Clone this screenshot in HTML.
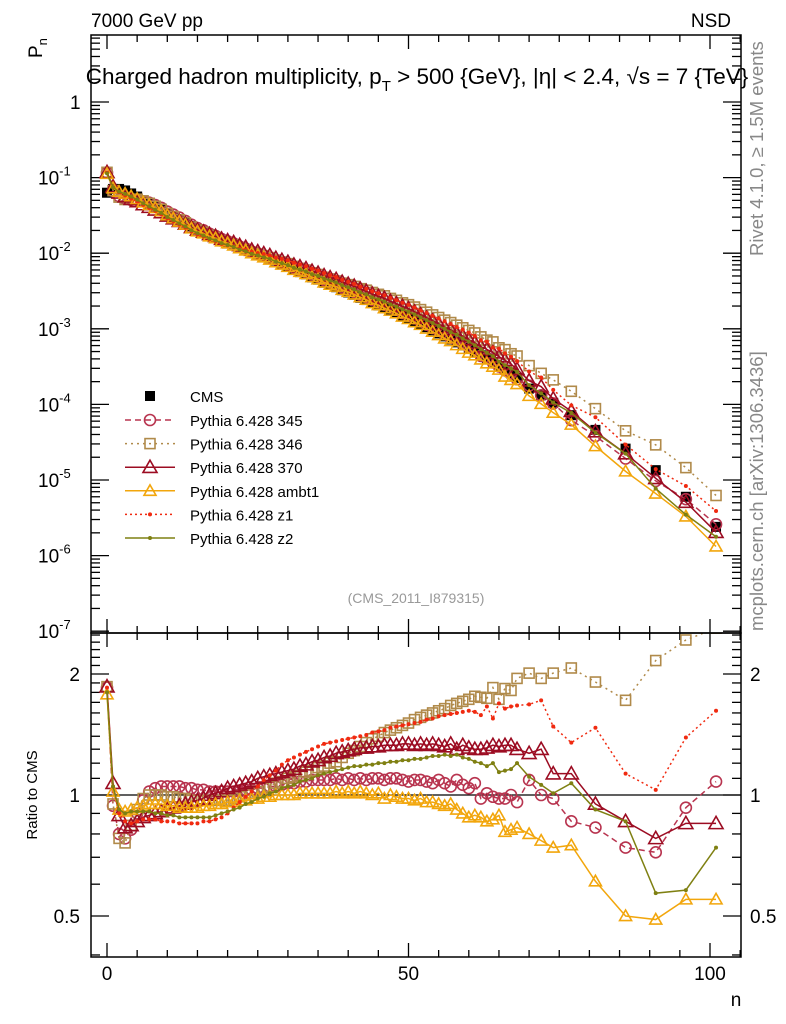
<!DOCTYPE html>
<html><head><meta charset="utf-8">
<style>
body{margin:0;background:#fff;}
svg{display:block;font-family:"Liberation Sans",Arial,sans-serif;}
</style></head>
<body>
<svg id="chart" width="786" height="1024" viewBox="0 0 786 1024" xmlns="http://www.w3.org/2000/svg">
<defs>
<clipPath id="clipMain"><rect x="91" y="35" width="650" height="598"/></clipPath>
<clipPath id="clipRatio"><rect x="91" y="633" width="650" height="324"/></clipPath>
</defs>
<rect x="0" y="0" width="786" height="1024" fill="#fff"/>
<text x="91" y="27" font-size="19">7000 GeV pp</text>
<text x="731" y="27" font-size="19" text-anchor="end">NSD</text>
<text x="417" y="84" font-size="22.5" text-anchor="middle">Charged hadron multiplicity, p<tspan font-size="15" dy="7">T</tspan><tspan dy="-7"> &gt; 500 {GeV}, |η| &lt; 2.4, √s = 7 {TeV}</tspan></text>
<text transform="translate(42,58) rotate(-90)" font-size="19">P<tspan font-size="13" dy="5">n</tspan></text>
<text transform="translate(763,256) rotate(-90)" font-size="18.5" fill="#888">Rivet 4.1.0, ≥ 1.5M events</text>
<text transform="translate(763,631) rotate(-90)" font-size="18.5" fill="#888">mcplots.cern.ch [arXiv:1306.3436]</text>
<text x="416" y="603" font-size="14" fill="#999" text-anchor="middle">(CMS_2011_I879315)</text>
<text transform="translate(37,795) rotate(-90)" font-size="15" text-anchor="middle">Ratio to CMS</text>
<text x="736" y="1006" font-size="19" text-anchor="middle">n</text>
<g id="axes"></g>
<g id="mainMarks" clip-path="url(#clipMain)"></g>
<g id="ratioMarks" clip-path="url(#clipRatio)"></g>
<g id="legend"></g>
<rect x="91" y="35" width="650" height="598" fill="none" stroke="#000" stroke-width="1.5"/>
<rect x="91" y="633" width="650" height="324" fill="none" stroke="#000" stroke-width="1.5"/>
</svg>
<script>
const nVals=[0,1,2,3,4,5,6,7,8,9,10,11,12,13,14,15,16,17,18,19,20,21,22,23,24,25,26,27,28,29,30,31,32,33,34,35,36,37,38,39,40,41,42,43,44,45,46,47,48,49,50,51,52,53,54,55,56,57,58,59,60,61,62,63,64,65,66,67,68,70,72,74,77,81,86,91,96,101];
const cmsPn=[0.0631,0.0708,0.0708,0.0676,0.0617,0.0562,0.0501,0.0457,0.0417,0.038,
0.0339,0.0309,0.0282,0.0257,0.0229,0.0209,0.0195,0.0178,0.0166,0.0151,
0.0141,0.0132,0.0120,0.0112,0.0102,0.00955,0.00891,0.00832,0.00759,0.00708,
0.00661,0.00603,0.00562,0.00525,0.00479,0.00447,0.00407,0.0038,0.00355,0.00324,
0.00302,0.00282,0.00257,0.0024,0.00219,0.00204,0.00191,0.00174,0.00162,0.00148,
0.00138,0.00126,0.00115,0.00105,9.55e-4,8.71e-4,7.94e-4,7.24e-4,6.61e-4,6.03e-4,
5.5e-4,5.01e-4,4.47e-4,4.07e-4,3.63e-4,3.24e-4,2.88e-4,2.57e-4,2.24e-4,
1.62e-4,1.32e-4,1.05e-4,7.2e-5,4.6e-5,2.6e-5,1.35e-5,6.0e-6,2.4e-6];
const ratio345=[1.85,0.94,0.80,0.78,0.82,0.90,0.97,1.02,1.04,1.05,
1.05,1.05,1.05,1.04,1.04,1.03,1.03,1.02,1.02,1.02,
1.02,1.02,1.02,1.03,1.03,1.04,1.04,1.05,1.05,1.06,
1.07,1.07,1.08,1.08,1.09,1.09,1.09,1.09,1.10,1.09,
1.10,1.09,1.10,1.09,1.10,1.10,1.09,1.10,1.10,1.09,
1.08,1.09,1.09,1.08,1.07,1.09,1.07,1.05,1.09,1.06,
1.04,1.07,0.98,1.01,0.99,0.98,0.98,1.00,0.96,
1.09,1.00,0.98,0.86,0.83,0.74,0.72,0.93,1.08];
const ratio346=[1.86,0.95,0.78,0.76,0.84,0.92,0.98,1.00,1.00,1.00,
0.99,0.99,0.98,0.98,0.97,0.97,0.97,0.97,0.97,0.97,
0.97,0.98,0.99,1.00,1.01,1.02,1.04,1.05,1.07,1.08,
1.10,1.11,1.12,1.14,1.15,1.17,1.18,1.20,1.21,1.24,
1.27,1.29,1.32,1.35,1.38,1.40,1.43,1.45,1.47,1.49,
1.51,1.54,1.56,1.58,1.60,1.62,1.64,1.67,1.69,1.71,
1.73,1.76,1.75,1.74,1.85,1.73,1.84,1.82,1.95,
2.01,1.95,2.01,2.07,1.91,1.72,2.16,2.43,2.60];
const ratio370=[1.86,1.07,0.89,0.83,0.84,0.86,0.88,0.89,0.90,0.91,
0.92,0.93,0.94,0.95,0.96,0.97,0.98,1.00,1.01,1.02,
1.04,1.05,1.06,1.07,1.08,1.10,1.11,1.12,1.13,1.14,
1.15,1.16,1.18,1.19,1.21,1.22,1.24,1.25,1.27,1.28,
1.29,1.30,1.31,1.31,1.32,1.32,1.33,1.33,1.33,1.34,
1.34,1.33,1.34,1.33,1.34,1.33,1.32,1.34,1.30,1.33,
1.31,1.30,1.30,1.31,1.33,1.32,1.33,1.33,1.30,
1.27,1.30,1.13,1.13,0.95,0.86,0.78,0.85,0.85];
const ratioAmbt1=[1.78,1.02,0.92,0.91,0.92,0.93,0.94,0.95,0.95,0.95,
0.94,0.94,0.93,0.93,0.93,0.93,0.94,0.94,0.95,0.95,
0.96,0.96,0.97,0.97,0.98,0.98,0.99,0.99,1.00,1.00,
1.00,1.00,1.01,1.01,1.01,1.01,1.01,1.01,1.02,1.01,
1.02,1.01,1.02,1.01,1.00,1.01,0.98,1.00,0.99,0.98,
0.98,0.97,0.98,0.96,0.96,0.95,0.94,0.95,0.92,0.90,
0.88,0.89,0.88,0.86,0.87,0.89,0.81,0.82,0.83,
0.80,0.77,0.74,0.75,0.61,0.50,0.49,0.55,0.55];
const ratioZ1=[1.85,1.05,0.90,0.86,0.85,0.86,0.87,0.87,0.87,0.86,
0.86,0.86,0.85,0.85,0.85,0.85,0.86,0.86,0.87,0.88,
0.90,0.93,0.96,0.99,1.02,1.05,1.09,1.12,1.15,1.19,
1.22,1.24,1.26,1.28,1.30,1.32,1.34,1.35,1.36,1.37,
1.38,1.39,1.40,1.41,1.43,1.44,1.45,1.47,1.48,1.49,
1.50,1.51,1.52,1.54,1.55,1.57,1.58,1.59,1.60,1.61,
1.62,1.61,1.58,1.66,1.55,1.69,1.64,1.66,1.67,
1.68,1.72,1.48,1.35,1.47,1.13,1.03,1.39,1.62];
const ratioZ2=[1.80,1.05,0.92,0.90,0.91,0.91,0.91,0.91,0.90,0.90,
0.89,0.89,0.88,0.88,0.88,0.88,0.88,0.88,0.89,0.90,
0.91,0.92,0.93,0.95,0.96,0.98,0.99,1.01,1.02,1.04,
1.05,1.06,1.08,1.09,1.10,1.12,1.13,1.14,1.15,1.16,
1.17,1.18,1.18,1.19,1.19,1.20,1.20,1.21,1.21,1.22,
1.22,1.23,1.23,1.24,1.25,1.25,1.26,1.25,1.26,1.24,
1.23,1.21,1.20,1.18,1.20,1.14,1.15,1.16,1.20,
1.11,1.06,1.01,1.07,0.92,0.86,0.57,0.58,0.74];
const xTickLabels=["0","50","100"];
const ratioTickLabels=["0.5","1","2"];

const NS="http://www.w3.org/2000/svg";
function X(n){return 107+n*6.03;}
function YM(v){return 102-75.6*Math.log10(v);}
function YR(r){return 795-402*Math.log10(r);}
function mk(tag,attrs,parent){const e=document.createElementNS(NS,tag);for(const k in attrs)e.setAttribute(k,attrs[k]);parent.appendChild(e);return e;}
const axes=document.getElementById('axes');
const mainG=document.getElementById('mainMarks');
const ratioG=document.getElementById('ratioMarks');
const legG=document.getElementById('legend');

for(let n=0;n<=105;n+=5){
  const major=n%50===0;const L=major?14:7;const x=X(n);
  let t=mk('line',{x1:x,x2:x,y1:957,y2:957-L,stroke:'#000','stroke-width':1.3},axes);
  
  t=mk('line',{x1:x,x2:x,y1:633,y2:633-L,stroke:'#000','stroke-width':1.3},axes);
  
  t=mk('line',{x1:x,x2:x,y1:633,y2:633+L,stroke:'#000','stroke-width':1.3},axes);
  
  t=mk('line',{x1:x,x2:x,y1:35,y2:35+L,stroke:'#000','stroke-width':1.3},axes);
  
}
xTickLabels.forEach(s=>{const tx=mk('text',{x:X(+s),y:980,'font-size':19,'text-anchor':'middle'},axes);tx.textContent=s;

});
for(let d=-8;d<=0;d++){
  for(let m=1;m<=9;m++){
    const v=m*Math.pow(10,d);const y=YM(v);if(y<35||y>633)continue;
    const L=m===1?18:9;
    let t=mk('line',{x1:91,x2:91+L,y1:y,y2:y,stroke:'#000','stroke-width':1.3},axes);
    
    t=mk('line',{x1:741,x2:741-L,y1:y,y2:y,stroke:'#000','stroke-width':1.3},axes);
    
  }
  const y=YM(Math.pow(10,d));if(y<35||y>640)continue;
  const tx=mk('text',{x:d===0?70:38,y:y+7,'font-size':19},axes);
  
  
  if(d===0){tx.textContent='1';}else{tx.textContent='10';const sp=mk('tspan',{dy:-9,'font-size':13},tx);sp.textContent=String(d);}
}
for(let i=4;i<=25;i++){
  const r=i/10;const y=YR(r);if(y<633||y>957)continue;
  const major=(i===5||i===10||i===20);const L=major?18:9;
  let t=mk('line',{x1:91,x2:91+L,y1:y,y2:y,stroke:'#000','stroke-width':1.3},axes);
  
  t=mk('line',{x1:741,x2:741-L,y1:y,y2:y,stroke:'#000','stroke-width':1.3},axes);
  
}
ratioTickLabels.forEach(s=>{const y=YR(+s)+7;
 let tx=mk('text',{x:80,y:y,'font-size':19,'text-anchor':'end'},axes);tx.textContent=s;
 
 
 tx=mk('text',{x:750,y:y,'font-size':19},axes);tx.textContent=s;
 
 });
const ul=mk('line',{x1:91,x2:741,y1:YR(1),y2:YR(1),stroke:'#000','stroke-width':1.3},ratioG);



function marker(g,kind,x,y,col,size){
  let e;
  if(kind==='square'){e=mk('rect',{x:x-5,y:y-5,width:10,height:10,fill:'none',stroke:col,'stroke-width':1.6},g);}
  else if(kind==='circle'){e=mk('circle',{cx:x,cy:y,r:5.5,fill:'none',stroke:col,'stroke-width':1.6},g);}
  else if(kind==='tri'){const s=size||7;e=mk('polygon',{points:`${x},${y-s} ${x-s},${y+s*0.75} ${x+s},${y+s*0.75}`,fill:'none',stroke:col,'stroke-width':1.6},g);}
  else if(kind==='dot'){e=mk('circle',{cx:x,cy:y,r:2,fill:col},g);}
  else if(kind==='fsquare'){e=mk('rect',{x:x-5,y:y-5,width:10,height:10,fill:col},g);}
  return e;
}
const series=[
 {name:'Pythia 6.428 345',r:ratio345,col:'#b8344f',dash:'6,4',kind:'circle',key:'p345'},
 {name:'Pythia 6.428 346',r:ratio346,col:'#b08a4a',dash:'2,4',kind:'square',key:'p346'},
 {name:'Pythia 6.428 370',r:ratio370,col:'#9c0c22',dash:'',kind:'tri',key:'p370'},
 {name:'Pythia 6.428 ambt1',r:ratioAmbt1,col:'#f2a60c',dash:'',kind:'tri',key:'ambt1',size:6},
 {name:'Pythia 6.428 z1',r:ratioZ1,col:'#f02a10',dash:'2,3',kind:'dot',key:'z1'},
 {name:'Pythia 6.428 z2',r:ratioZ2,col:'#7f8012',dash:'',kind:'dot',key:'z2'}
];
cmsPn.forEach((v,i)=>{const m=marker(mainG,'fsquare',X(nVals[i]),YM(v),'#000');
 
 });
series.forEach(s=>{
 const ptsM=[],ptsR=[];
 s.r.forEach((r,i)=>{ptsM.push(X(nVals[i])+','+YM(cmsPn[i]*r));ptsR.push(X(nVals[i])+','+YR(r));});
 const a={fill:'none',stroke:s.col,'stroke-width':1.5};if(s.dash)a['stroke-dasharray']=s.dash;
 let pl=mk('polyline',Object.assign({points:ptsM.join(' ')},a),mainG);
 
 
 pl=mk('polyline',Object.assign({points:ptsR.join(' ')},a),ratioG);
 
 
 s.r.forEach((r,i)=>{
  let m=marker(mainG,s.kind,X(nVals[i]),YM(cmsPn[i]*r),s.col,s.size);
  
  
  m=marker(ratioG,s.kind,X(nVals[i]),YR(r),s.col,s.size);
  
  
 });
});
let le=marker(legG,'fsquare',150,396,'#000');


let lt=mk('text',{x:190,y:402,'font-size':15},legG);lt.textContent='CMS';


series.forEach((s,i)=>{
 const y=420+i*23.6;
 const a={x1:125,x2:175,y1:y,y2:y,stroke:s.col,'stroke-width':1.5};if(s.dash)a['stroke-dasharray']=s.dash;
 const l=mk('line',a,legG);
 
 
 const m=marker(legG,s.kind,150,y,s.col,s.size);
 
 
 const t=mk('text',{x:190,y:y+6,'font-size':15},legG);t.textContent=s.name;
 
 
});
</script>
</body></html>
